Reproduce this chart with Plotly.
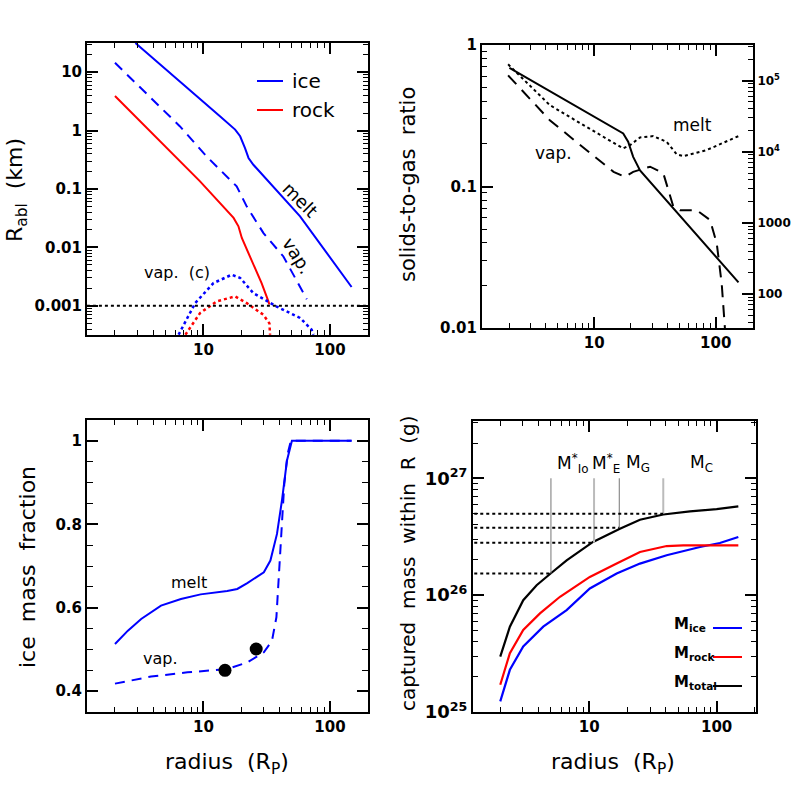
import numpy as np
import plotly.graph_objects as go

W = H = 797
FONT = "DejaVu Sans"

# ---------------- Panel (a): ablation radius vs radius ----------------
r_ice_melt = [2.9, 8.1, 13.5, 17.8, 19.5, 21.3, 22.7, 24.8, 31.6, 58, 148]
rabl_ice_melt = [31.6, 4.7, 1.76, 1.04, 0.8, 0.5, 0.34, 0.26, 0.144, 0.034, 0.0021]

r_ice_vap = [2.0, 6.5, 10.6, 16.2, 18.3, 22.0, 29.8, 42.8, 65.5]
rabl_ice_vap = [14.5, 1.19, 0.36, 0.145, 0.111, 0.05, 0.0176, 0.007, 0.0013]

r_rock_melt = [2.0, 5.1, 9.4, 17.3, 18.9, 20.1, 22.0, 28.8, 32.6, 33.2]
rabl_rock_melt = [3.9, 0.5, 0.135, 0.032, 0.023, 0.0145, 0.0091, 0.00244, 0.00119, 0.00105]

r_ice_vapc = [6.36, 8.6, 12.0, 16.7, 19.5, 24.8, 37.9, 58.0, 71.6, 74.0]
rabl_ice_vapc = [0.00032, 0.00111, 0.00245, 0.0034, 0.003, 0.00165, 0.00097, 0.00062, 0.00039, 0.00032]

r_rock_vapc = [7.2, 9.4, 12.7, 17.8, 22.0, 29.8, 33.2, 33.6]
rabl_rock_vapc = [0.00032, 0.00075, 0.00119, 0.00145, 0.00111, 0.0007, 0.0005, 0.00032]

r_limit = [1.2, 200]
rabl_limit = [0.001, 0.001]

# ---------------- Panel (b): solids-to-gas ratio ----------------
r_sg_solid = [2.0, 17.3, 19.0, 20.9, 23.8, 154]
sg_solid = [0.69, 0.237, 0.207, 0.162, 0.13, 0.021]

r_sg_melt = [1.95, 4.3, 8.6, 17.3, 19.7, 23.8, 30.6, 39.4, 47.7, 54.2, 84.3, 154]
sg_melt = [0.73, 0.376, 0.264, 0.186, 0.196, 0.222, 0.227, 0.207, 0.169, 0.164, 0.181, 0.227]

r_sg_vap = [1.95, 4.3, 8.6, 14.4, 17.9, 20.9, 28.8, 37.0, 44.8, 50.8, 69.7, 89.8, 102, 112, 119]
sg_vap = [0.61, 0.294, 0.181, 0.127, 0.117, 0.127, 0.138, 0.124, 0.0718, 0.068, 0.068, 0.058, 0.0395, 0.0206, 0.01]

right_tickvals = [100, 1000, 1e4, 1e5]
right_ticktext = ["100", "1000", "10<sup>4</sup>", "10<sup>5</sup>"]

# ---------------- Panel (c): ice mass fraction ----------------
r_imf_melt = [2.0, 2.53, 3.22, 4.62, 6.64, 9.5, 15.4, 18.5, 22.2, 30.0, 33.8, 38.1, 41.7, 45.7, 50.0, 148]
imf_melt = [0.513, 0.545, 0.573, 0.605, 0.621, 0.632, 0.640, 0.645, 0.659, 0.685, 0.713, 0.777, 0.857, 0.953, 1.0, 1.0]

r_imf_vap = [2.0, 3.86, 7.48, 15.4, 22.2, 30.0, 34.8, 37.7, 40.5, 43.5, 46.2, 49.0, 148]
imf_vap = [0.418, 0.435, 0.445, 0.453, 0.469, 0.493, 0.521, 0.577, 0.737, 0.897, 0.968, 1.0, 1.0]

r_dots = [14.8, 26.1]
imf_dots = [0.45, 0.501]

# ---------------- Panel (d): captured mass ----------------
r_mass = [2.0, 2.38, 3.03, 3.86, 4.97, 6.64, 10.7, 17.4, 25.0, 38.1, 61.8, 100, 148]
logm_total = [25.474, 25.73, 25.957, 26.085, 26.185, 26.298, 26.455, 26.568, 26.645, 26.69, 26.716, 26.736, 26.759]

r_rock = [2.0, 2.38, 3.03, 4.1, 5.89, 10.1, 16.4, 25.0, 40.5, 54.7, 148]
logm_rock = [25.233, 25.503, 25.702, 25.844, 25.986, 26.156, 26.27, 26.369, 26.42, 26.426, 26.426]

r_ice = [2.0, 2.38, 3.03, 4.35, 6.64, 10.1, 16.4, 25.0, 40.5, 74.0, 106, 148]
logm_ice = [25.091, 25.361, 25.56, 25.73, 25.872, 26.057, 26.185, 26.27, 26.341, 26.412, 26.446, 26.497]

sat_names = ["M<sup>*</sup><sub>Io</sub>", "M<sup>*</sup><sub>E</sub>", "M<sub>G</sub>", "M<sub>C</sub>"]
sat_r = [5.0, 10.9, 17.2, 38.1]
sat_mass = [1.53e26, 2.81e26, 3.77e26, 4.96e26]
sat_label_r = [7.4, 13.6, 24.2, 76.5]
mass_top = 1e27

BLUE = "#0000ff"
RED = "#ff0000"
BLACK = "#000000"

fig = go.Figure()

def line(x, y, color, dash="solid", width=2, xa="x", ya="y"):
    fig.add_trace(go.Scatter(x=x, y=y, mode="lines", line=dict(color=color, width=width, dash=dash),
                             xaxis=xa, yaxis=ya, showlegend=False, hoverinfo="skip"))

# panel a
line(r_ice_melt, rabl_ice_melt, BLUE)
line(r_ice_vap, rabl_ice_vap, BLUE, dash="10px,7px")
line(r_rock_melt, rabl_rock_melt, RED)
line(r_ice_vapc, rabl_ice_vapc, BLUE, dash="dot", width=2.5)
line(r_rock_vapc, rabl_rock_vapc, RED, dash="dot", width=2.5)
line(r_limit, rabl_limit, BLACK, dash="dot", width=2)

# panel b
line(r_sg_solid, sg_solid, BLACK, xa="x2", ya="y2")
line(r_sg_melt, sg_melt, BLACK, dash="dot", width=2, xa="x2", ya="y2")
line(r_sg_vap, sg_vap, BLACK, dash="12px,8px", xa="x2", ya="y2")
# invisible trace so the right axis is drawn
fig.add_trace(go.Scatter(x=[10], y=[1000], mode="markers", marker=dict(opacity=0), xaxis="x2", yaxis="y5",
                         showlegend=False, hoverinfo="skip"))

# panel c
line(r_imf_melt, imf_melt, BLUE, xa="x3", ya="y3")
line(r_imf_vap, imf_vap, BLUE, dash="10px,7px", xa="x3", ya="y3")
fig.add_trace(go.Scatter(x=r_dots, y=imf_dots, mode="markers", marker=dict(color="black", size=13),
                         xaxis="x3", yaxis="y3", showlegend=False, hoverinfo="skip"))

# panel d
line(r_ice, [10 ** v for v in logm_ice], BLUE, width=2.2, xa="x4", ya="y4")
line(r_rock, [10 ** v for v in logm_rock], RED, width=2.2, xa="x4", ya="y4")
line(r_mass, [10 ** v for v in logm_total], BLACK, width=2.2, xa="x4", ya="y4")
vcolors = ["#777777", "#bbbbbb", "#777777", "#bbbbbb"]
vwidths = [1, 2, 1, 2]
for i in range(len(sat_r)):
    line([sat_r[i], sat_r[i]], [sat_mass[i], mass_top], vcolors[i], width=vwidths[i], xa="x4", ya="y4")
    line([1.25, sat_r[i]], [sat_mass[i], sat_mass[i]], BLACK, dash="dot", width=2, xa="x4", ya="y4")


def px_x(p):
    return p / W


def px_y(p):
    return 1 - p / H


def minor_log(lo, hi):
    return [m * 10.0 ** e for e in range(lo, hi) for m in range(2, 10)]


tickfont = dict(family=FONT, size=15, color="black", weight="bold")


def axis(**kw):
    d = dict(showline=True, linewidth=2, linecolor="black", mirror="ticks", ticks="inside",
             ticklen=11, tickwidth=1.5, tickcolor="black", showgrid=False, zeroline=False,
             tickfont=tickfont, fixedrange=True, automargin=False)
    d.update(kw)
    return d


def minor(vals, ln=5):
    return dict(ticks="inside", ticklen=ln, tickwidth=1.2, tickcolor="black", tickmode="array",
                tickvals=vals, showgrid=False)


xt_vals = [10, 100]
xt_text = ["10", "100"]

fig.update_layout(
    template="none",
    width=W, height=H, autosize=False, margin=dict(l=0, r=0, t=0, b=0, pad=0),
    paper_bgcolor="white", plot_bgcolor="white", showlegend=False,
    xaxis=axis(type="log", domain=[px_x(87), px_x(368)], range=[0.08, 2.30], anchor="y",
               tickmode="array", tickvals=xt_vals, ticktext=xt_text, minor=minor(minor_log(0, 3))),
    yaxis=axis(type="log", domain=[px_y(335), px_y(43)], range=[-3.5, 1.5], anchor="x",
               tickmode="array", tickvals=[0.001, 0.01, 0.1, 1, 10],
               ticktext=["0.001", "0.01", "0.1", "1", "10"], minor=minor(minor_log(-4, 2))),
    xaxis2=axis(type="log", domain=[px_x(482), px_x(753)], range=[0.075, 2.307], anchor="y2",
                tickmode="array", tickvals=xt_vals, ticktext=xt_text, minor=minor(minor_log(0, 3))),
    yaxis2=axis(type="log", domain=[px_y(328), px_y(45)], range=[-2, 0], anchor="x2", mirror=False,
                tickmode="array", tickvals=[0.01, 0.1, 1], ticktext=["0.01", "0.1", "1"],
                minor=minor(minor_log(-2, 0))),
    yaxis5=axis(type="log", overlaying="y2", side="right", anchor="x2", range=[1.52, 5.5], mirror=False,
                tickmode="array", tickvals=right_tickvals, ticktext=right_ticktext,
                tickfont=dict(family=FONT, size=12, color="black", weight="bold"),
                minor=minor(minor_log(1, 6))),
    xaxis3=axis(type="log", domain=[px_x(87), px_x(368)], range=[0.08, 2.30], anchor="y3",
                tickmode="array", tickvals=xt_vals, ticktext=xt_text, minor=minor(minor_log(0, 3))),
    yaxis3=axis(domain=[px_y(712), px_y(420)], range=[0.35, 1.05], anchor="x3",
                tickmode="array", tickvals=[0.4, 0.6, 0.8, 1.0], ticktext=["0.4", "0.6", "0.8", "1"],
                minor=dict(ticks="inside", ticklen=6, tickwidth=1.2, tickcolor="black", tick0=0.4,
                           dtick=0.05, showgrid=False)),
    xaxis4=axis(type="log", domain=[px_x(473), px_x(756)], range=[0.087, 2.309], anchor="y4",
                tickmode="array", tickvals=xt_vals, ticktext=xt_text, minor=minor(minor_log(0, 3))),
    yaxis4=axis(type="log", domain=[px_y(712), px_y(421)], range=[25, 27.49], anchor="x4",
                tickmode="array", tickvals=[1e25, 1e26, 1e27],
                ticktext=["10<sup>25</sup>", "10<sup>26</sup>", "10<sup>27</sup>"],
                tickfont=dict(family=FONT, size=18, color="black", weight="bold"),
                minor=minor(minor_log(25, 28))),
)

ann = []


def text(x, y, s, size=16, xref="paper", yref="paper", angle=0, xanchor="center", yanchor="middle",
         weight="normal"):
    ann.append(dict(x=x, y=y, xref=xref, yref=yref, text=s, showarrow=False, textangle=angle,
                    xanchor=xanchor, yanchor=yanchor,
                    font=dict(family=FONT, size=size, color="black", weight=weight)))


L = np.log10
# axis titles
text(px_x(16), px_y(190), "R<sub>abl</sub>  (km)", size=22, angle=-90)
text(px_x(408), px_y(185), "solids-to-gas  ratio", size=21, angle=-90)
text(px_x(27), px_y(567), "ice  mass  fraction", size=22, angle=-90)
text(px_x(408), px_y(563), "captured  mass  within  R  (g)", size=20, angle=-90)
text(px_x(227), px_y(763), "radius  (R<sub>P</sub>)", size=22)
text(px_x(613), px_y(763), "radius  (R<sub>P</sub>)", size=22)

# panel a labels
text(L(58), -1.18, "melt", size=18, xref="x", yref="y", angle=45)
text(L(55), -2.14, "vap.", size=18, xref="x", yref="y", angle=58)
text(L(6.2), -2.43, "vap.  (c)", size=16, xref="x", yref="y")
text(px_x(290), px_y(81), "ice", size=20, xanchor="left")
text(px_x(290), px_y(110), "rock", size=20, xanchor="left")

# panel b labels
text(L(64), -0.566, "melt", size=17, xref="x2", yref="y2")
text(L(4.6), -0.764, "vap.", size=17, xref="x2", yref="y2")

# panel c labels
text(L(7.7), 0.66, "melt", size=16, xref="x3", yref="y3")
text(L(4.6), 0.478, "vap.", size=16, xref="x3", yref="y3")

# panel d labels
for i in range(len(sat_names)):
    text(L(sat_label_r[i]), 27.13, sat_names[i], size=17, xref="x4", yref="y4")

text(px_x(672), px_y(624), "M<sub>ice</sub>", size=15, xanchor="left", weight="bold")
text(px_x(672), px_y(653), "M<sub>rock</sub>", size=15, xanchor="left", weight="bold")
text(px_x(672), px_y(682), "M<sub>total</sub>", size=15, xanchor="left", weight="bold")

fig.update_layout(annotations=ann)

shapes = []
for (x0, x1, yy, c) in [(257, 283, 81, BLUE), (257, 283, 110, RED),
                        (713, 742, 628, BLUE), (713, 742, 657, RED), (713, 742, 686, BLACK)]:
    shapes.append(dict(type="line", xref="paper", yref="paper", x0=px_x(x0), x1=px_x(x1),
                       y0=px_y(yy), y1=px_y(yy), line=dict(color=c, width=2)))
fig.update_layout(shapes=shapes)

fig.write_html("out.html", config={"displayModeBar": False},
               post_script="document.body.style.margin='0px';document.body.style.overflow='hidden';")
